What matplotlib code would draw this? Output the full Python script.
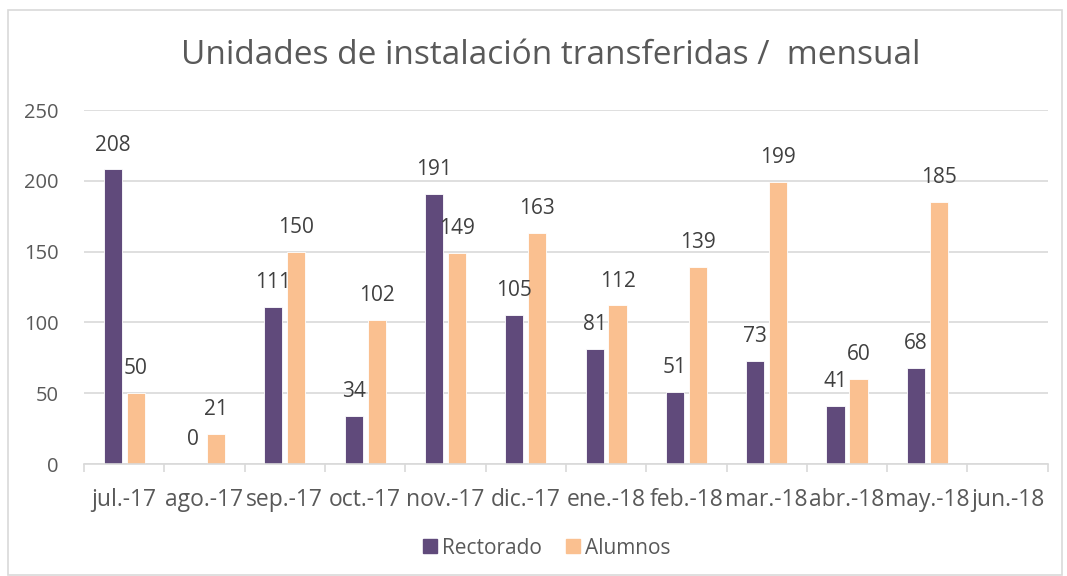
import matplotlib.pyplot as plt
import numpy as np
from matplotlib.patches import Rectangle

meses = ['jul.-17', 'ago.-17', 'sep.-17', 'oct.-17', 'nov.-17', 'dic.-17',
         'ene.-18', 'feb.-18', 'mar.-18', 'abr.-18', 'may.-18', 'jun.-18']
rectorado = [208, 0, 111, 34, 191, 105, 81, 51, 73, 41, 68, None]
alumnos = [50, 21, 150, 102, 149, 163, 112, 139, 199, 60, 185, None]

c_rect = '#604a7b'
c_alum = '#fac090'
gris = '#595959'

plt.rcParams['font.family'] = ['Open Sans', 'DejaVu Sans']

fig = plt.figure(figsize=(10.67, 5.76), dpi=100)
ax = fig.add_axes([0.0787, 0.1944, 0.9033, 0.6146])

x = np.arange(len(meses))
w = 0.225
off = 0.143

for vals, dx, col in [(rectorado, -off, c_rect), (alumnos, off, c_alum)]:
    xs = [xi + dx for xi, v in zip(x, vals) if v is not None]
    vs = [v for v in vals if v is not None]
    ax.bar(xs, vs, width=w, color=col, edgecolor='white', linewidth=0.6)
    for xi, v in zip(xs, vs):
        ax.annotate(str(v), (xi, v), xytext=(0, 10), textcoords='offset points',
                    ha='center', va='bottom', fontsize=15, color='#404040')

ax.set_xlim(-0.5, len(meses) - 0.5)
ax.set_ylim(0, 250)
ax.set_yticks(range(0, 251, 50))
ax.yaxis.grid(True, color='#d9d9d9', linewidth=1.2)
ax.set_axisbelow(True)
ax.set_xticks(x)
ax.set_xticklabels(meses)
ax.set_xticks(np.arange(-0.5, len(meses)), minor=True)
ax.tick_params(axis='x', which='major', length=0, pad=17, labelsize=16.5, labelcolor=gris)
ax.tick_params(axis='x', which='minor', length=6, color='#d9d9d9', width=1.2)
ax.tick_params(axis='y', length=0, pad=18, labelsize=14.5, labelcolor=gris)
for s in ['top', 'right', 'left']:
    ax.spines[s].set_visible(False)
ax.spines['bottom'].set_color('#d9d9d9')
ax.spines['bottom'].set_linewidth(1.2)

fig.text(551 / 1067, 1 - 55 / 576, 'Unidades de instalación transferidas /  mensual',
         ha='center', va='center', fontsize=24, color=gris)

h1 = Rectangle((0, 0), 1, 1, color=c_rect)
h2 = Rectangle((0, 0), 1, 1, color=c_alum)
fig.legend([h1, h2], ['Rectorado', 'Alumnos'], loc='center', ncol=2,
           bbox_to_anchor=(547 / 1067, 1 - 548 / 576), frameon=False,
           fontsize=15, labelcolor=gris, handlelength=0.67, handleheight=0.67,
           handletextpad=0.25, columnspacing=1.15)

fig.patches.append(Rectangle((8 / 1067, 0.001), 1054 / 1067, 1 - 10 / 576 - 0.001,
                             transform=fig.transFigure, fill=False,
                             edgecolor='#d9d9d9', linewidth=1.2))

fig.savefig('out.png', dpi=100)
